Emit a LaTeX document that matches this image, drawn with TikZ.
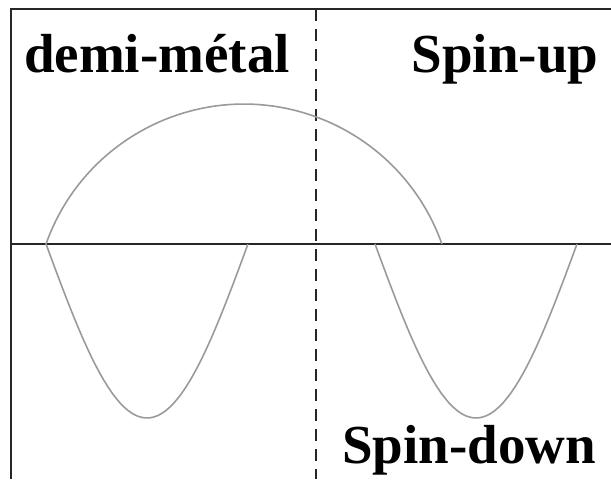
\documentclass[tikz,border=0pt]{standalone}
\usepackage{fontspec}
\setmainfont{Liberation Serif}
\usepackage{tikz}
\usetikzlibrary{positioning, calc}
\definecolor{curve}{HTML}{9a9a9a}

\begin{document}
\begin{tikzpicture}[
  x=0.5pt, y=0.5pt,
  frame/.style={line width=1.1pt, black!85},
  divider/.style={line width=1.2pt, black!85, dash pattern=on 6pt off 4pt},
  band/.style={line width=0.8pt, curve},
  label/.style={font=\fontsize{27.5}{30}\selectfont\bfseries, inner sep=0pt, anchor=base}
]
  \useasboundingbox (0,0) rectangle (611,479);

  % frame and energy axis
  \coordinate (topL) at (11,470);
  \coordinate (topR) at (611,470);
  \coordinate (botL) at (11,0);
  \coordinate (axL) at (11,235);
  \coordinate (axR) at (611,235);
  \draw[frame] (botL) -- (topL) -- (topR);
  \draw[frame] (axL) -- (axR);

  % Fermi level
  \coordinate (fTop) at (316,470);
  \coordinate (fBot) at (316,0);
  \draw[divider] (fTop) -- (fBot);

  % spin-up band
  \draw[band] (46,235) arc[start angle=160.5, end angle=19.5, radius=210];

  % spin-down bands
  \draw[band] plot[domain=0:1, samples=50] ({46+202*\x},{235-174*sin(180*\x)});
  \draw[band] plot[domain=0:1, samples=50] ({375+202*\x},{235-174*sin(180*\x)});

  \node[label] (hm) at (157,407) {demi-métal};
  \node[label] (up) at (505,407) {Spin-up};
  \node[label] (down) at (469,16) {Spin-down};
\end{tikzpicture}
\end{document}
